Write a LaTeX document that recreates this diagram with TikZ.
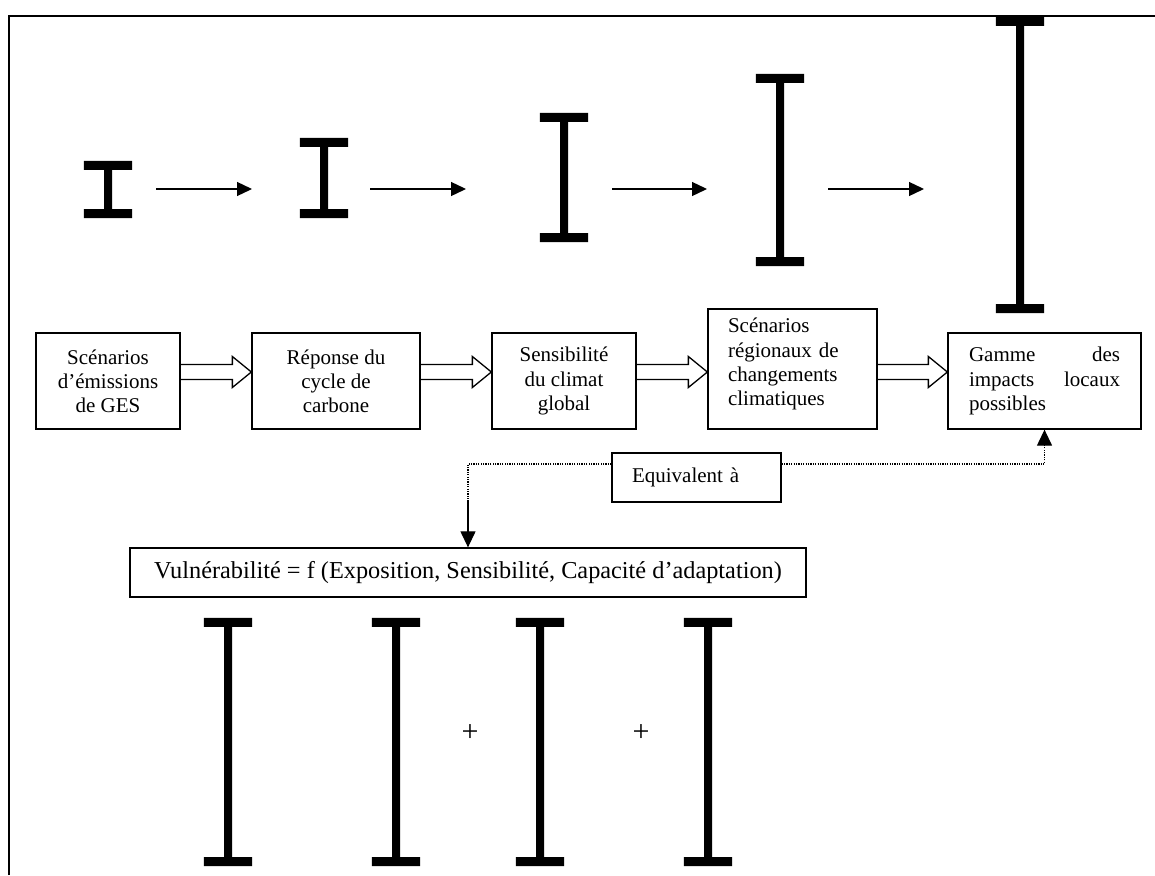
\documentclass[tikz,border=0pt]{standalone}
\usepackage{fontspec}
\setmainfont{Liberation Serif}
\usetikzlibrary{arrows.meta, positioning, calc}

% hollow block arrow from #1 to the tip #2
\newcommand{\hollowarrow}[2]{%
  \draw[hollow] ([yshift=7.5pt]#1) -- ([xshift=-19pt,yshift=7.5pt]#2)
    -- ([xshift=-19pt,yshift=15.5pt]#2) -- (#2)
    -- ([xshift=-19pt,yshift=-15.5pt]#2) -- ([xshift=-19pt,yshift=-7.5pt]#2)
    -- ([yshift=-7.5pt]#1);}

\begin{document}
\begin{tikzpicture}[x=1pt, y=-1pt,
    font=\fontsize{21}{24.2}\selectfont,
    box/.style={draw, line width=1.3pt, inner sep=0pt, align=center},
    beam/.style={inner sep=0pt, minimum width=48pt},
    flow/.style={line width=1.3pt, -{Triangle[length=15pt,width=14pt]}},
    hollow/.style={line width=1.3pt, line join=miter},
    link/.style={line width=1.2pt, dash pattern=on 1.2pt off 1.2pt},
    plus/.style={font=\fontsize{30}{30}\selectfont}]
  \useasboundingbox (0,0) rectangle (1155,875);
  \draw[line width=1.4pt] (9,875) -- (9,16) -- (1155,16);

  % error bars
  \foreach \n/\x/\t/\b in {b1/108/161/218, b2/324/138/218, b3/564/113/242,
      b4/780/74/266, b5/1020/17/313, v1/228/618/866, v2/396/618/866,
      v3/540/618/866, v4/708/618/866} {
    \node[beam, minimum height={\b-\t}] (\n) at (\x,{(\t+\b)/2}) {};
    \fill (\n.north west) rectangle ([yshift=-9pt]\n.north east)
          ([yshift=9pt]\n.south west) rectangle (\n.south east)
          ([xshift=-4pt]\n.north) rectangle ([xshift=4pt]\n.south);
  }

  % arrows between the bars
  \coordinate (a1) at (156,189);  \coordinate (a2) at (252,189);
  \coordinate (a3) at (370,189);  \coordinate (a4) at (466,189);
  \coordinate (a5) at (612,189);  \coordinate (a6) at (707,189);
  \coordinate (a7) at (828,189);  \coordinate (a8) at (924,189);
  \foreach \i/\j in {a1/a2, a3/a4, a5/a6, a7/a8}
    \draw[flow] (\i) -- (\j);

  % chain of boxes
  \node[box, minimum width=144pt, minimum height=96pt] (ges) at (108,381)
    {Scénarios\\d’émissions\\de GES};
  \node[box, minimum width=168pt, minimum height=96pt] (carb) at (336,381)
    {Réponse du\\cycle de\\carbone};
  \node[box, minimum width=144pt, minimum height=96pt] (clim) at (564,381)
    {Sensibilité\\du climat\\global};
  \node[box, minimum width=169pt, minimum height=120pt, text width=129pt,
        align=left] (reg) at (792.5,369)
    {Scénarios\\régionaux de\\changements\\climatiques\\[-10pt]\mbox{}};
  \node[box, minimum width=193pt, minimum height=96pt, text width=151pt,
        align=left] (imp) at (1044.5,381)
    {\makebox[151pt]{Gamme\hfill des}\\\makebox[151pt]{impacts\hfill locaux}\\possibles};

  \coordinate (lvl) at (0,372);
  \foreach \a/\b [count=\i] in {ges/carb, carb/clim, clim/reg, reg/imp} {
    \coordinate (s\i) at (\a.east |- lvl);
    \coordinate (t\i) at (\b.west |- lvl);
    \hollowarrow{s\i}{t\i}
  }

  \node[box, minimum width=169pt, minimum height=49pt, text width=129pt,
        align=left] (eq) at (696.5,477.5) {Equivalent à};
  \node[box, minimum width=676pt, minimum height=49pt,
        font=\fontsize{24.3}{27}\selectfont] (vul) at (468,572.5)
    {Vulnérabilité = f (Exposition, Sensibilité, Capacité d’adaptation)};

  \coordinate (bend) at (468,500);
  \draw[link] ([yshift=13.5pt]eq.west) -| (bend);
  \draw[line width=1.2pt, -{Triangle[length=16pt,width=15pt]}]
    (bend) -- (vul.north);
  \draw[link, -{Triangle[length=16pt,width=15pt]}]
    ([yshift=13.5pt]eq.east) -| (imp.south);

  \node[plus] (p1) at (470,733) {+};
  \node[plus] (p2) at (641,733) {+};
\end{tikzpicture}
\end{document}
